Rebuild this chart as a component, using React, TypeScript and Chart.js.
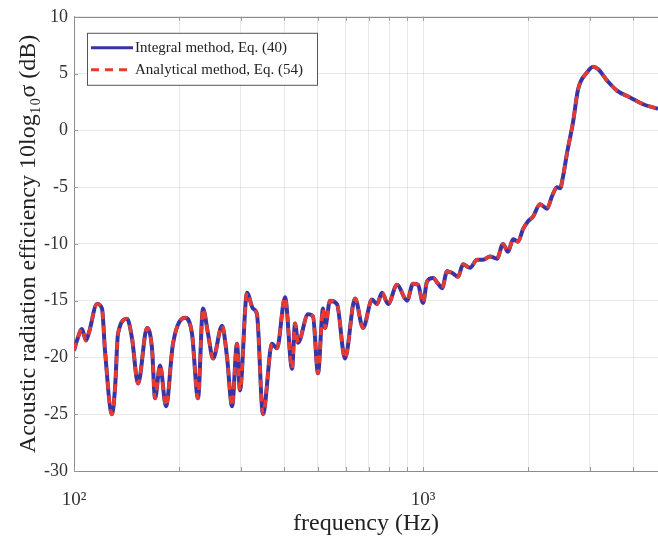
import React, { useEffect, useRef } from "react";
import { Chart, registerables } from "chart.js";

Chart.register(...registerables);

const frequencies = [
  100, 102, 105.4, 108.2, 110.4, 116.4, 120.3, 122.7, 128.5, 131.1, 133.7, 141.9, 146.6, 152.6,
  161.9, 167.3, 170.7, 176.4, 183.5, 192.1, 208, 217.8, 226.6, 234.2, 242.1, 250.2, 265.6, 274.5,
  283.7, 293.1, 298.9, 313.1, 325.7, 334.4, 347.9, 369.3, 381.7, 402.4, 421.4, 429.9, 438.5, 468.3,
  484, 500.2, 517, 523.9, 541.4, 566.9, 597.6, 638.7, 673.2, 714.4, 738.2, 762.9, 794.3, 842.6,
  900.1, 935.9, 967.6, 1000, 1027, 1068, 1104, 1134, 1172, 1219, 1260, 1302, 1364, 1428,
  1486, 1556, 1629, 1695, 1752, 1811, 1872, 1934, 2000, 2066, 2164, 2266, 2342, 2421,
  2470, 2518, 2586, 2690, 2781, 2951, 3070, 3172, 3367, 3596, 3919, 4270, 4713,
];

const integralValues = [
  -19.4, -18.5, -17.5, -18.5, -17.8, -15.3, -15.7, -19.4, -25.0, -22.7, -17.9, -16.6, -18.3, -22.3,
  -17.4, -19.2, -23.6, -20.7, -24.3, -18.8, -16.5, -17.9, -23.6, -15.7, -17.9, -20.1, -17.2, -20.0,
  -24.3, -18.8, -22.9, -14.3, -15.7, -16.2, -25.0, -18.8, -19.2, -14.7, -21.0, -17.0, -18.7, -16.2,
  -16.4, -21.4, -15.7, -17.4, -15.0, -15.3, -20.1, -14.8, -17.4, -14.9, -15.3, -14.3, -15.3, -13.6,
  -15.0, -13.5, -13.6, -15.2, -13.3, -13.0, -13.5, -13.9, -12.4, -12.6, -12.9, -11.8, -12.1, -11.4,
  -11.4, -11.1, -11.3, -10.0, -10.7, -9.6, -9.8, -8.7, -8.0, -7.6, -6.5, -6.9, -5.8, -5.0,
  -5.1, -4.1, -2.0, 0.7, 3.6, 5.1, 5.6, 5.4, 4.4, 3.5, 2.9, 2.3, 1.9,
];

const analyticalValues = [
  -19.4, -18.5, -17.5, -18.5, -17.8, -15.3, -15.7, -19.4, -25.0, -22.7, -17.9, -16.6, -18.3, -22.3,
  -17.4, -19.2, -23.6, -20.7, -24.3, -18.8, -16.5, -17.9, -23.6, -15.7, -17.9, -20.1, -17.2, -20.0,
  -24.3, -18.8, -22.9, -14.3, -15.7, -16.2, -25.0, -18.8, -19.2, -14.7, -21.0, -17.0, -18.7, -16.2,
  -16.4, -21.4, -15.7, -17.4, -15.0, -15.3, -20.1, -14.8, -17.4, -14.9, -15.3, -14.3, -15.3, -13.6,
  -15.0, -13.5, -13.6, -15.2, -13.3, -13.0, -13.5, -13.9, -12.4, -12.6, -12.9, -11.8, -12.1, -11.4,
  -11.4, -11.1, -11.3, -10.0, -10.7, -9.6, -9.8, -8.7, -8.0, -7.6, -6.5, -6.9, -5.8, -5.0,
  -5.1, -4.1, -2.0, 0.7, 3.6, 5.1, 5.6, 5.4, 4.4, 3.5, 2.9, 2.3, 1.9,
];

const seriesLabels = ["Integral method, Eq. (40)", "Analytical method, Eq. (54)"];
const xTickValues = [100, 200, 300, 400, 500, 600, 700, 800, 900, 1000, 2000, 3000, 4000];
const xTickLabels: Record<number, string> = { 100: "10\u00B2", 1000: "10\u00B3" };
const yTickValues = [-30, -25, -20, -15, -10, -5, 0, 5, 10];

const BLUE = "#3535a8";
const RED = "#e63b2e";
const SERIF = "'Liberation Serif', 'Times New Roman', serif";

const framePlugin = {
  id: "frame",
  afterDatasetsDraw(chart: any) {
    const { ctx, chartArea: a } = chart;
    const xs = chart.scales.x;
    const ys = chart.scales.y;
    ctx.save();
    // top border
    ctx.strokeStyle = "#8c8c8c";
    ctx.lineWidth = 1;
    ctx.beginPath();
    ctx.moveTo(a.left, Math.round(a.top) + 0.5);
    ctx.lineTo(a.right, Math.round(a.top) + 0.5);
    ctx.stroke();
    // inward ticks
    ctx.strokeStyle = "#9a9a9a";
    ctx.beginPath();
    xTickValues.forEach((v) => {
      const px = Math.round(xs.getPixelForValue(v)) + 0.5;
      ctx.moveTo(px, a.bottom);
      ctx.lineTo(px, a.bottom - 4);
      ctx.moveTo(px, a.top);
      ctx.lineTo(px, a.top + 4);
    });
    yTickValues.forEach((v) => {
      const py = Math.round(ys.getPixelForValue(v)) + 0.5;
      ctx.moveTo(a.left, py);
      ctx.lineTo(a.left + 4, py);
    });
    ctx.stroke();

    // legend
    const lx = a.left + 13;
    const ly = a.top + 16;
    const lw = 230;
    const lh = 52;
    ctx.fillStyle = "#ffffff";
    ctx.fillRect(lx, ly, lw, lh);
    ctx.strokeStyle = "#555555";
    ctx.lineWidth = 1;
    ctx.strokeRect(lx + 0.5, ly + 0.5, lw, lh);
    const rows = [ly + 15, ly + 37];
    chart.data.datasets.forEach((ds: any, i: number) => {
      const y = rows[i];
      ctx.strokeStyle = ds.borderColor;
      ctx.lineWidth = 3;
      ctx.setLineDash(ds.borderDash || []);
      ctx.beginPath();
      ctx.moveTo(lx + 4, y);
      ctx.lineTo(lx + 46, y);
      ctx.stroke();
      ctx.setLineDash([]);
      ctx.fillStyle = "#222222";
      ctx.font = `15px ${SERIF}`;
      ctx.textBaseline = "middle";
      ctx.textAlign = "left";
      ctx.fillText(ds.label, lx + 48, y);
    });
    ctx.restore();
  },
};

export default function App() {
  const canvasRef = useRef<HTMLCanvasElement | null>(null);

  useEffect(() => {
    const canvas = canvasRef.current;
    if (!canvas) return;
    const integralData = frequencies.map((f, i) => ({ x: f, y: integralValues[i] }));
    const analyticalData = frequencies.map((f, i) => ({ x: f, y: analyticalValues[i] }));

    const chart = new Chart(canvas, {
      type: "line",
      data: {
        datasets: [
          {
            label: seriesLabels[0],
            data: integralData,
            borderColor: BLUE,
            borderWidth: 4,
            pointRadius: 0,
            cubicInterpolationMode: "monotone",
            fill: false,
            order: 2,
          },
          {
            label: seriesLabels[1],
            data: analyticalData,
            borderColor: RED,
            borderWidth: 3.5,
            borderDash: [8, 6],
            pointRadius: 0,
            cubicInterpolationMode: "monotone",
            fill: false,
            order: 1,
          },
        ],
      },
      options: {
        responsive: false,
        animation: false,
        events: [],
        layout: { padding: { top: 15, right: 0, bottom: 0, left: 0 } },
        plugins: {
          legend: { display: false },
          tooltip: { enabled: false },
        },
        scales: {
          x: {
            type: "logarithmic",
            min: 100,
            max: 4713,
            afterBuildTicks: (scale: any) => {
              scale.ticks = xTickValues.map((v) => ({ value: v }));
            },
            afterFit: (scale: any) => {
              scale.height = 69;
            },
            ticks: {
              autoSkip: false,
              maxRotation: 0,
              padding: 18,
              color: "#333333",
              font: { family: SERIF, size: 19 },
              callback: (v: any) => xTickLabels[Number(v)] ?? "",
            },
            grid: { color: "rgba(0,0,0,0.085)", drawTicks: false },
            border: { color: "#8c8c8c", width: 1 },
            title: {
              display: true,
              text: "frequency (Hz)",
              color: "#222222",
              font: { family: SERIF, size: 24 },
              padding: { top: 0, bottom: 2 },
            },
          },
          y: {
            type: "linear",
            min: -30,
            max: 10,
            afterBuildTicks: (scale: any) => {
              scale.ticks = yTickValues.map((v) => ({ value: v }));
            },
            afterFit: (scale: any) => {
              scale.width = 74;
            },
            ticks: {
              padding: 6,
              color: "#333333",
              font: { family: SERIF, size: 18 },
              callback: (v: any) => String(v),
            },
            grid: { color: "rgba(0,0,0,0.085)", drawTicks: false },
            border: { color: "#8c8c8c", width: 1 },
            title: {
              display: true,
              text: "Acoustic radiation efficiency 10log\u2081\u2080\u03C3 (dB)",
              color: "#222222",
              font: { family: SERIF, size: 24 },
              padding: { top: 14, bottom: 0 },
            },
          },
        },
      },
      plugins: [framePlugin],
    } as any);

    return () => chart.destroy();
  }, []);

  return (
    <div style={{ position: "fixed", left: 0, top: 0, width: 658, height: 540, background: "#ffffff" }}>
      <canvas ref={canvasRef} width={658} height={540} style={{ display: "block" }} />
    </div>
  );
}
